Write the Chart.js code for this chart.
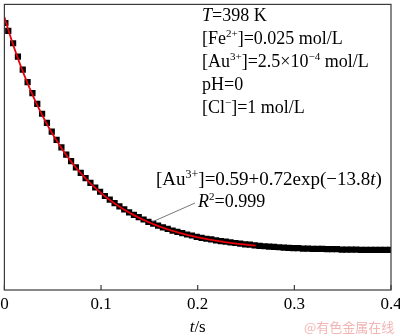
<!DOCTYPE html>
<html>
<head>
<meta charset="utf-8">
<script src="https://cdn.jsdelivr.net/npm/chart.js@4.4.1/dist/chart.umd.min.js"></script>
<style>
  html, body { margin: 0; padding: 0; background: #fff; }
  canvas { display: block; }
</style>
</head>
<body>
<canvas id="decayChart" width="400" height="334"></canvas>
<script>
// measured [Au3+] vs time
const times = [
  0.001, 0.004, 0.009, 0.014, 0.019, 0.024, 0.029, 0.034, 0.039, 0.044,
  0.049, 0.054, 0.059, 0.064, 0.069, 0.074, 0.079, 0.084, 0.089, 0.094,
  0.099, 0.104, 0.109, 0.114, 0.119, 0.124, 0.129, 0.134, 0.139, 0.144,
  0.149, 0.154, 0.159, 0.164, 0.169, 0.174, 0.179, 0.184, 0.189, 0.194,
  0.199, 0.204, 0.209, 0.214, 0.219, 0.224, 0.229, 0.234, 0.239, 0.244,
  0.249, 0.254, 0.259, 0.264, 0.269, 0.274, 0.279, 0.284, 0.289, 0.294,
  0.299, 0.304, 0.309, 0.314, 0.319, 0.324, 0.329, 0.334, 0.339, 0.344,
  0.349, 0.354, 0.359, 0.364, 0.369, 0.374, 0.379, 0.384, 0.389, 0.394,
  0.399
];
const auConc = [
  1.292, 1.268, 1.230, 1.189, 1.149, 1.111, 1.077, 1.044, 1.014, 0.986,
  0.959, 0.934, 0.911, 0.889, 0.869, 0.850, 0.833, 0.817, 0.802, 0.788,
  0.775, 0.762, 0.751, 0.740, 0.730, 0.721, 0.712, 0.704, 0.697, 0.690,
  0.683, 0.677, 0.671, 0.666, 0.661, 0.656, 0.652, 0.648, 0.644, 0.641,
  0.637, 0.634, 0.631, 0.629, 0.626, 0.624, 0.622, 0.620, 0.618, 0.616,
  0.614, 0.613, 0.611, 0.609, 0.608, 0.607, 0.606, 0.605, 0.604, 0.603,
  0.602, 0.602, 0.601, 0.601, 0.600, 0.600, 0.600, 0.599, 0.599, 0.599,
  0.598, 0.598, 0.598, 0.598, 0.597, 0.597, 0.597, 0.597, 0.597, 0.597,
  0.597
];

// fitted curve [Au3+] = a + b*exp(-k*t)
const fitA = 0.59, fitB = 0.72, fitK = 13.8;
const fitEnd = 0.26;
const xTicks = [0, 0.1, 0.2, 0.3, 0.4];
const xTickLabels = ['0', '0.1', '0.2', '0.3', '0.4'];

const fitPts = [];
for (let t = 0; t <= fitEnd + 1e-9; t += 0.002) {
  fitPts.push({x: t, y: fitA + fitB * Math.exp(-fitK * t)});
}
const dataPts = times.map((t, i) => ({x: t, y: auConc[i]}));

const SERIF = '"Liberation Serif", "Times New Roman", serif';

// draws text runs; each run is [text, flags] with i = italic, s = superscript
function drawRich(ctx, x, y, runs, size) {
  let cx = x;
  runs.forEach(([txt, flags]) => {
    flags = flags || '';
    const sup = flags.includes('s');
    const fs = sup ? Math.round(size * 0.62) : size;
    ctx.font = (flags.includes('i') ? 'italic ' : '') + fs + 'px ' + SERIF;
    ctx.fillText(txt, cx, sup ? y - size * 0.38 : y);
    cx += ctx.measureText(txt).width;
  });
  return cx;
}

const frameAndText = {
  id: 'frameAndText',
  afterDatasetsDraw(chart) {
    const {ctx, chartArea: a, scales} = chart;
    ctx.save();
    // box
    ctx.strokeStyle = '#3a3a3a';
    ctx.lineWidth = 1.2;
    ctx.strokeRect(a.left, a.top, a.right - a.left, a.bottom - a.top);
    // inward ticks + labels
    ctx.fillStyle = '#000';
    ctx.textAlign = 'center';
    ctx.textBaseline = 'alphabetic';
    ctx.font = '17px ' + SERIF;
    xTicks.forEach((v, i) => {
      const px = scales.x.getPixelForValue(v);
      ctx.beginPath();
      ctx.moveTo(px, a.bottom);
      ctx.lineTo(px, a.bottom - 5);
      ctx.stroke();
      ctx.fillText(xTickLabels[i], px, 309);
    });
    // axis title t/s
    ctx.textAlign = 'left';
    const mid = (a.left + a.right) / 2;
    ctx.font = 'italic 17px ' + SERIF;
    const w1 = ctx.measureText('t').width;
    ctx.font = '17px ' + SERIF;
    const w2 = ctx.measureText('/s').width;
    drawRich(ctx, mid - (w1 + w2) / 2, 332, [['t', 'i'], ['/s']], 17);

    // conditions
    const fs = 18;
    drawRich(ctx, 202, 21, [['T', 'i'], ['=398 K']], fs);
    drawRich(ctx, 202, 44, [['[Fe'], ['2+', 's'], [']=0.025 mol/L']], fs);
    drawRich(ctx, 202, 67, [['[Au'], ['3+', 's'], [']=2.5\u00d710'], ['\u22124', 's'], [' mol/L']], fs);
    drawRich(ctx, 202, 90, [['pH=0']], fs);
    drawRich(ctx, 202, 113, [['[Cl'], ['\u2212', 's'], [']=1 mol/L']], fs);

    // fit equation and R2 with leader line
    drawRich(ctx, 156, 185, [['[Au'], ['3+', 's'], [']=0.59+0.72exp(\u221213.8'], ['t', 'i'], [')']], 19);
    drawRich(ctx, 198, 207, [['R', 'i'], ['2', 's'], ['=0.999']], fs);
    ctx.strokeStyle = '#555';
    ctx.lineWidth = 0.8;
    ctx.beginPath();
    ctx.moveTo(152, 222);
    ctx.lineTo(195, 203);
    ctx.stroke();

    // source mark
    ctx.fillStyle = '#f3b4b4';
    ctx.font = '13px "Noto Sans CJK SC", sans-serif';
    ctx.fillText('@有色金属在线', 304, 332);
    ctx.restore();
  }
};

new Chart(document.getElementById('decayChart'), {
  type: 'scatter',
  data: {
    datasets: [
      {
        label: 'fit',
        data: fitPts,
        showLine: true,
        borderColor: '#e8000b',
        borderWidth: 1.8,
        pointRadius: 0,
        tension: 0,
        order: 0
      },
      {
        label: 'data',
        data: dataPts,
        pointStyle: 'rect',
        pointRadius: 4.4,
        backgroundColor: '#000',
        borderWidth: 0,
        order: 1
      }
    ]
  },
  options: {
    responsive: false,
    animation: false,
    layout: {padding: {left: 4, top: 1, right: 9, bottom: 44}},
    plugins: {legend: {display: false}, tooltip: {enabled: false}},
    scales: {
      x: {type: 'linear', min: 0, max: 0.4, display: false},
      y: {type: 'linear', min: 0.474, max: 1.349, display: false}
    }
  },
  plugins: [frameAndText]
});
</script>
</body>
</html>
